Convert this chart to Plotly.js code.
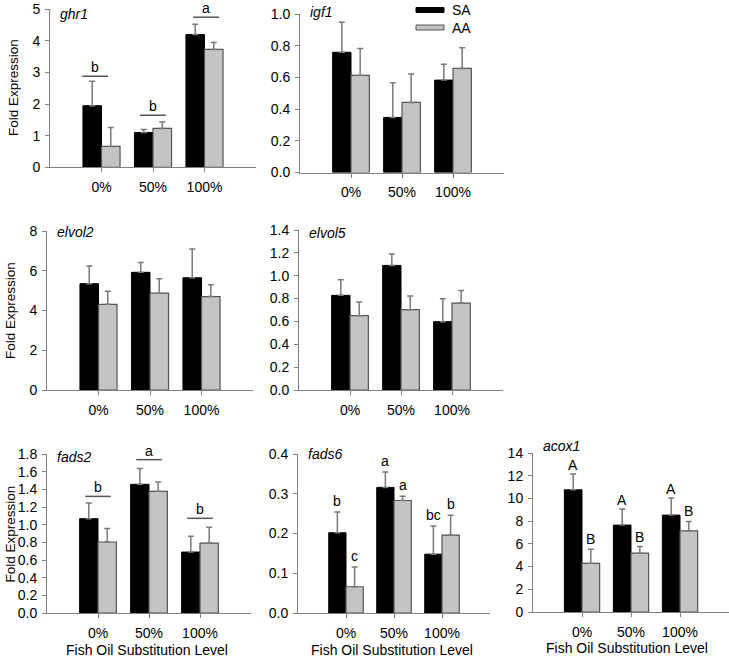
<!DOCTYPE html>
<html>
<head>
<meta charset="utf-8">
<script src="https://cdn.plot.ly/plotly-3.0.1.min.js"></script>
<style>
  html, body { margin: 0; padding: 0; background: #fff; }
  #chart { width: 729px; height: 658px; }
</style>
</head>
<body>
<div id="chart"></div>
<script>
// ---------------- DATA ----------------
const categories = ['0%', '50%', '100%'];
const seriesNames = ['SA', 'AA'];

const ghr1_SA = [1.95, 1.10, 4.20];
const ghr1_SA_err = [0.77, 0.10, 0.33];
const ghr1_AA = [0.66, 1.23, 3.73];
const ghr1_AA_err = [0.60, 0.20, 0.22];
const ghr1_groupLetters = ['b', 'b', 'a'];
const ghr1_groupLineLevel = [2.88, 1.65, 4.75];

const igf1_SA = [0.76, 0.348, 0.584];
const igf1_SA_err = [0.19, 0.22, 0.10];
const igf1_AA = [0.614, 0.443, 0.658];
const igf1_AA_err = [0.17, 0.18, 0.13];

const elvol2_SA = [5.35, 5.92, 5.65];
const elvol2_SA_err = [0.89, 0.49, 1.45];
const elvol2_AA = [4.31, 4.87, 4.70];
const elvol2_AA_err = [0.66, 0.73, 0.59];

const elvol5_SA = [0.828, 1.09, 0.598];
const elvol5_SA_err = [0.137, 0.10, 0.20];
const elvol5_AA = [0.650, 0.703, 0.761];
const elvol5_AA_err = [0.12, 0.12, 0.11];

const fads2_SA = [1.068, 1.457, 0.690];
const fads2_SA_err = [0.177, 0.18, 0.18];
const fads2_AA = [0.804, 1.377, 0.792];
const fads2_AA_err = [0.154, 0.106, 0.18];
const fads2_groupLetters = ['b', 'a', 'b'];
const fads2_groupLineLevel = [1.32, 1.736, 1.072];

const fads6_SA = [0.202, 0.316, 0.148];
const fads6_SA_err = [0.052, 0.039, 0.071];
const fads6_AA = [0.066, 0.283, 0.196];
const fads6_AA_err = [0.050, 0.011, 0.050];
const fads6_SA_letters = ['b', 'a', 'bc'];
const fads6_AA_letters = ['c', 'a', 'b'];

const acox1_SA = [10.76, 7.65, 8.53];
const acox1_SA_err = [1.39, 1.41, 1.50];
const acox1_AA = [4.29, 5.18, 7.15];
const acox1_AA_err = [1.24, 0.58, 0.82];
const acox1_SA_letters = ['A', 'A', 'A'];
const acox1_AA_letters = ['B', 'B', 'B'];

const geneNames = ['ghr1', 'igf1', 'elvol2', 'elvol5', 'fads2', 'fads6', 'acox1'];
const yTitle = 'Fold Expression';
const xTitle = 'Fish Oil Substitution Level';

// ---------------- STYLE / LAYOUT ----------------
const W = 729, H = 658;
const FONT = 'Liberation Sans, Arial, sans-serif';
const AXIS_COLOR = '#808080';
const SA_COLOR = '#000000';
const AA_COLOR = '#c4c4c4';
const AA_LINE = '#555555';
const ERR_COLOR = '#7a7a7a';

// panel boxes in pixels: [left, right, top, bottom]
const panels = [
  { box: [50, 256, 9.3, 167.3], ymax: 5, dtick: 1, fmt: 'd', nameShift: -5 },
  { box: [300, 504, 14.3, 172.5], ymax: 1.0, dtick: 0.2, fmt: '.1f', nameShift: 2 },
  { box: [47, 253, 231, 390], ymax: 8, dtick: 2, fmt: 'd', nameShift: -1 },
  { box: [299, 503, 230, 390], ymax: 1.4, dtick: 0.2, fmt: '.1f', nameShift: -3 },
  { box: [47, 251, 454, 613], ymax: 1.8, dtick: 0.2, fmt: '.1f', nameShift: -3 },
  { box: [298, 490, 454, 613], ymax: 0.4, dtick: 0.1, fmt: '.1f', nameShift: 0 },
  { box: [533, 729, 453, 612], ymax: 14, dtick: 2, fmt: 'd', nameShift: 7 }
];

const panelData = [
  [ghr1_SA, ghr1_SA_err, ghr1_AA, ghr1_AA_err],
  [igf1_SA, igf1_SA_err, igf1_AA, igf1_AA_err],
  [elvol2_SA, elvol2_SA_err, elvol2_AA, elvol2_AA_err],
  [elvol5_SA, elvol5_SA_err, elvol5_AA, elvol5_AA_err],
  [fads2_SA, fads2_SA_err, fads2_AA, fads2_AA_err],
  [fads6_SA, fads6_SA_err, fads6_AA, fads6_AA_err],
  [acox1_SA, acox1_SA_err, acox1_AA, acox1_AA_err]
];

const traces = [];
const layout = {
  width: W, height: H,
  margin: { l: 0, r: 0, t: 0, b: 0 },
  paper_bgcolor: '#ffffff',
  plot_bgcolor: 'rgba(0,0,0,0)',
  barmode: 'group',
  bargap: 0.28,
  bargroupgap: 0,
  showlegend: false,
  font: { family: FONT, size: 14, color: '#000' },
  annotations: [],
  shapes: []
};

panels.forEach((p, i) => {
  const n = i + 1;
  const xa = 'x' + (n === 1 ? '' : n), ya = 'y' + (n === 1 ? '' : n);
  const xk = 'xaxis' + (n === 1 ? '' : n), yk = 'yaxis' + (n === 1 ? '' : n);
  const [l, r, t, b] = p.box;
  const d = panelData[i];
  const zeros = [0, 0, 0];
  traces.push({
    type: 'bar', name: seriesNames[0], x: categories, y: d[0],
    xaxis: xa, yaxis: ya,
    marker: { color: SA_COLOR, line: { color: '#000', width: 1 } },
    error_y: { type: 'data', symmetric: false, array: d[1], arrayminus: zeros,
               color: ERR_COLOR, thickness: 1.5, width: 3 },
    hoverinfo: 'skip'
  });
  traces.push({
    type: 'bar', name: seriesNames[1], x: categories, y: d[2],
    xaxis: xa, yaxis: ya,
    marker: { color: AA_COLOR, line: { color: AA_LINE, width: 1.2 } },
    error_y: { type: 'data', symmetric: false, array: d[3], arrayminus: zeros,
               color: ERR_COLOR, thickness: 1.5, width: 3 },
    hoverinfo: 'skip'
  });
  layout[xk] = {
    domain: [l / W, r / W],
    anchor: ya,
    type: 'category',
    categoryorder: 'array', categoryarray: categories,
    range: [-1, 3],
    showline: true, linecolor: AXIS_COLOR, linewidth: 1,
    ticks: 'outside', ticklen: 4, tickcolor: AXIS_COLOR,
    showgrid: false, zeroline: false,
    tickfont: { family: FONT, size: 14, color: '#000' },
    ticklabelstandoff: 3,
    fixedrange: true
  };
  layout[yk] = {
    domain: [1 - b / H, 1 - t / H],
    anchor: xa,
    range: [0, p.ymax],
    dtick: p.dtick, tick0: 0, tickformat: p.fmt,
    showline: true, linecolor: AXIS_COLOR, linewidth: 1,
    ticks: 'outside', ticklen: 4, tickcolor: AXIS_COLOR,
    showgrid: false, zeroline: false,
    tickfont: { family: FONT, size: 14, color: '#000' },
    ticklabelstandoff: 2,
    fixedrange: true
  };
  // gene name
  layout.annotations.push({
    xref: xa + ' domain', yref: ya + ' domain', x: 0, y: 1,
    xanchor: 'left', yanchor: 'middle', xshift: 8, yshift: p.nameShift,
    text: '<i>' + geneNames[i] + '</i>', showarrow: false,
    font: { family: FONT, size: 14, color: '#000' }
  });
});

// Fold Expression titles (left column)
[[13, 88], [10, 311], [9.5, 534]].forEach(([px, py]) => {
  layout.annotations.push({
    xref: 'paper', yref: 'paper', x: px / W, y: 1 - py / H,
    xanchor: 'center', yanchor: 'middle', textangle: -90,
    text: yTitle, showarrow: false,
    font: { family: FONT, size: 13.5, color: '#000' }
  });
});
// x-axis titles bottom row
[[147, 650], [392, 650], [627, 648]].forEach(([px, py]) => {
  layout.annotations.push({
    xref: 'paper', yref: 'paper', x: px / W, y: 1 - py / H,
    xanchor: 'center', yanchor: 'middle',
    text: xTitle, showarrow: false,
    font: { family: FONT, size: 14, color: '#000' }
  });
});

// group significance lines + letters
const BAR_OFF = 0.18;
function groupMarks(xa, ya, letters, levels, shifts) {
  letters.forEach((txt, k) => {
    const c = k + shifts[k];
    layout.shapes.push({
      type: 'line', xref: xa, yref: ya,
      x0: c - 0.25, x1: c + 0.25, y0: levels[k], y1: levels[k],
      line: { color: '#555555', width: 1.5 }
    });
    layout.annotations.push({
      xref: xa, yref: ya, x: c, y: levels[k],
      xanchor: 'center', yanchor: 'bottom', yshift: -1,
      text: txt, showarrow: false,
      font: { family: FONT, size: 14, color: '#000' }
    });
  });
}
groupMarks('x', 'y', ghr1_groupLetters, ghr1_groupLineLevel, [-0.125, 0, 0.03]);
groupMarks('x5', 'y5', fads2_groupLetters, fads2_groupLineLevel, [0, 0, 0]);

function barLetters(xa, ya, letters, vals, errs, off, shift) {
  letters.forEach((txt, k) => {
    layout.annotations.push({
      xref: xa, yref: ya, x: k + off, y: vals[k] + errs[k],
      xanchor: 'center', yanchor: 'bottom', yshift: shift,
      text: txt, showarrow: false,
      font: { family: FONT, size: 14, color: '#000' }
    });
  });
}
barLetters('x6', 'y6', fads6_SA_letters, fads6_SA, fads6_SA_err, -BAR_OFF, 1);
barLetters('x6', 'y6', fads6_AA_letters, fads6_AA, fads6_AA_err, BAR_OFF, 1);
barLetters('x7', 'y7', acox1_SA_letters, acox1_SA, acox1_SA_err, -BAR_OFF, -1);
barLetters('x7', 'y7', acox1_AA_letters, acox1_AA, acox1_AA_err, BAR_OFF, 0);

// legend (in igf1 panel)
const legendItems = [
  { name: seriesNames[0], fill: SA_COLOR, line: '#000', y0: 7.5, y1: 12.5 },
  { name: seriesNames[1], fill: AA_COLOR, line: AA_LINE, y0: 25, y1: 30 }
];
legendItems.forEach(it => {
  layout.shapes.push({
    type: 'rect', xref: 'paper', yref: 'paper',
    x0: 416 / W, x1: 444 / W, y0: 1 - it.y1 / H, y1: 1 - it.y0 / H,
    fillcolor: it.fill, line: { color: it.line, width: 1 }
  });
  layout.annotations.push({
    xref: 'paper', yref: 'paper', x: 450 / W, y: 1 - ((it.y0 + it.y1) / 2) / H,
    xanchor: 'left', yanchor: 'middle', text: it.name, showarrow: false,
    font: { family: FONT, size: 14, color: '#000' }
  });
});

Plotly.newPlot('chart', traces, layout, { displayModeBar: false, staticPlot: true });
</script>
</body>
</html>
